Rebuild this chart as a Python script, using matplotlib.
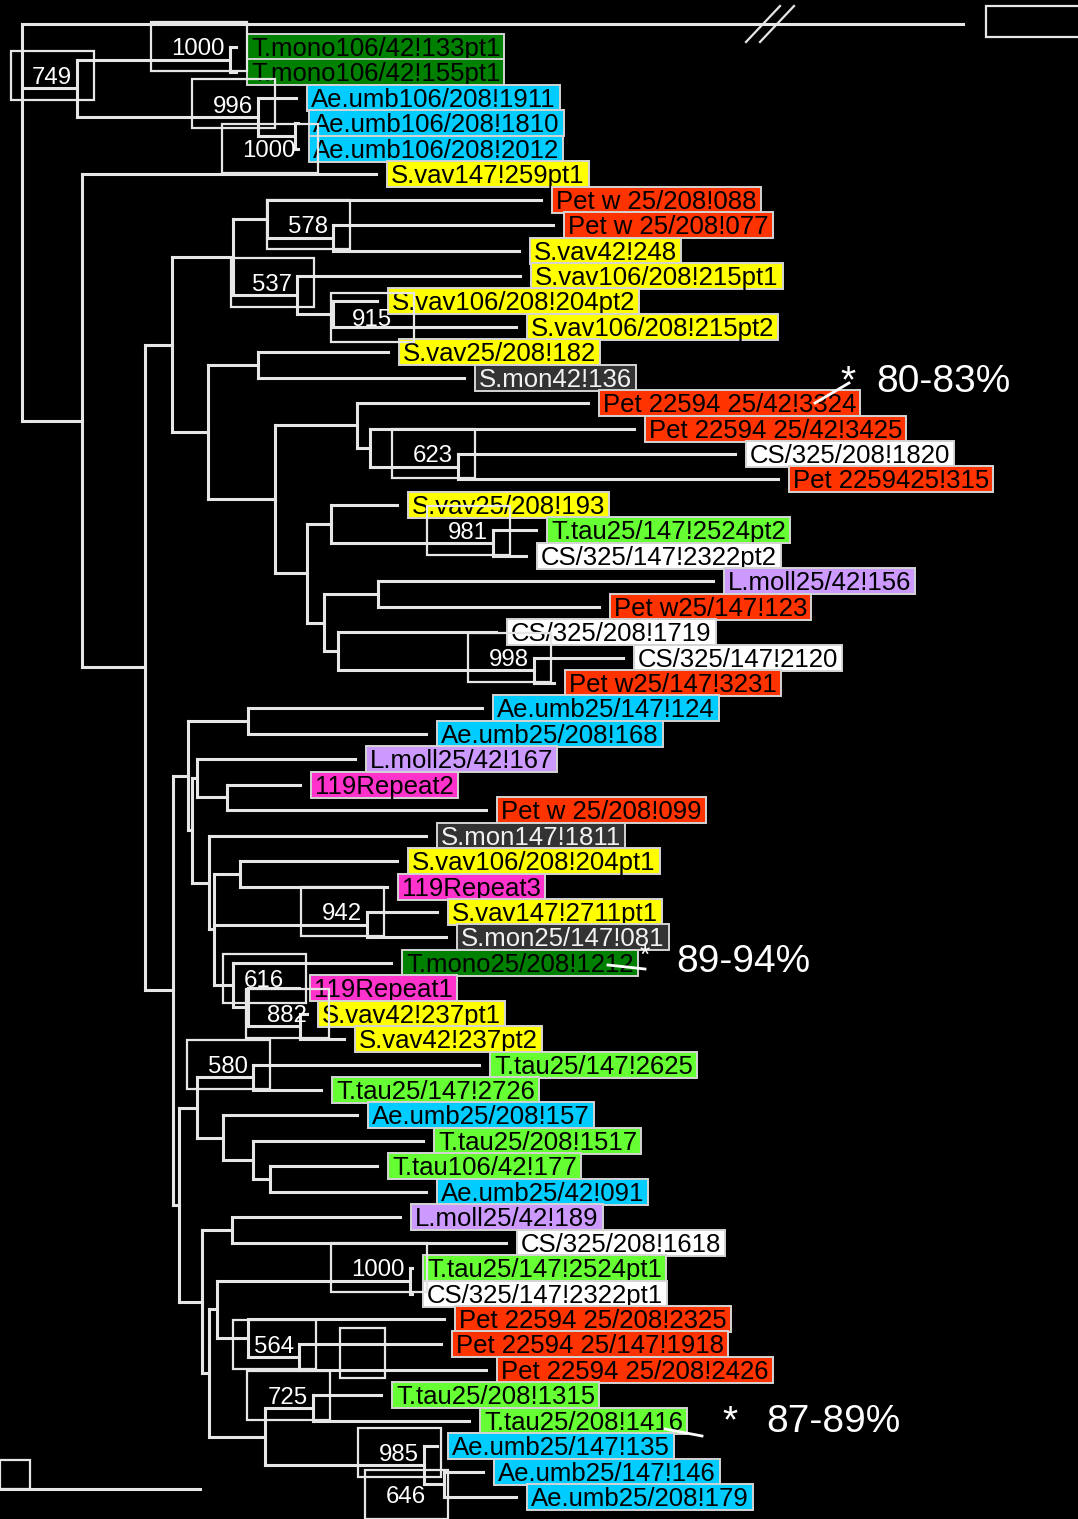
import matplotlib
matplotlib.use("Agg")
import matplotlib.pyplot as plt
from matplotlib.patches import Rectangle

plt.rcParams['font.family'] = ['Liberation Sans', 'DejaVu Sans']

# taxa, top to bottom
leaf_names = [
    "T.mono106/42!133pt1", "T.mono106/42!155pt1", "Ae.umb106/208!1911",
    "Ae.umb106/208!1810", "Ae.umb106/208!2012", "S.vav147!259pt1",
    "Pet w 25/208!088", "Pet w 25/208!077", "S.vav42!248",
    "S.vav106/208!215pt1", "S.vav106/208!204pt2", "S.vav106/208!215pt2",
    "S.vav25/208!182", "S.mon42!136", "Pet 22594 25/42!3324",
    "Pet 22594 25/42!3425", "CS/325/208!1820", "Pet 2259425!315",
    "S.vav25/208!193", "T.tau25/147!2524pt2", "CS/325/147!2322pt2",
    "L.moll25/42!156", "Pet w25/147!123", "CS/325/208!1719",
    "CS/325/147!2120", "Pet w25/147!3231", "Ae.umb25/147!124",
    "Ae.umb25/208!168", "L.moll25/42!167", "119Repeat2",
    "Pet w 25/208!099", "S.mon147!1811", "S.vav106/208!204pt1",
    "119Repeat3", "S.vav147!2711pt1", "S.mon25/147!081",
    "T.mono25/208!1212", "119Repeat1", "S.vav42!237pt1",
    "S.vav42!237pt2", "T.tau25/147!2625", "T.tau25/147!2726",
    "Ae.umb25/208!157", "T.tau25/208!1517", "T.tau106/42!177",
    "Ae.umb25/42!091", "L.moll25/42!189", "CS/325/208!1618",
    "T.tau25/147!2524pt1", "CS/325/147!2322pt1", "Pet 22594 25/208!2325",
    "Pet 22594 25/147!1918", "Pet 22594 25/208!2426", "T.tau25/208!1315",
    "T.tau25/208!1416", "Ae.umb25/147!135", "Ae.umb25/147!146",
    "Ae.umb25/208!179",
]

# branch tip positions (tree distance units)
tip_x = [
    236, 236, 296, 298, 298, 376, 541, 553, 519, 520,
    377, 516, 388, 464, 588, 634, 735, 778, 397, 536,
    526, 713, 599, 496, 623, 554, 482, 426, 355, 300,
    486, 426, 397, 387, 437, 446, 391, 299, 307, 344,
    479, 321, 357, 423, 377, 426, 400, 506, 412, 412,
    444, 441, 486, 381, 469, 437, 483, 516,
]
outgroup_tip = 963

# internal nodes: name -> (depth, children)
nodes = {
    'root': (22, ['out', 'c749', 'r82']),
    'c749': (77, ['tmono', 'aeumb']),
    'tmono': (230, [0, 1]),
    'aeumb': (258, [2, 'ae45']),
    'ae45': (295, [3, 4]),
    'r82': (82, [5, 'r145']),
    'r145': (145, ['top', 'bot']),
    'top': (172, ['a1', 'a2']),
    'a1': (233, ['a11', 'a12']),
    'a11': (267, [6, 'n89']),
    'n89': (333, [7, 8]),
    'a12': (297, [9, 'n1112']),
    'n1112': (333, [10, 11]),
    'a2': (208, ['n1314', 'a22']),
    'n1314': (258, [12, 13]),
    'a22': (275, ['a221', 'a222']),
    'a221': (357, [14, 'n16']),
    'n16': (370, [15, 'n1718']),
    'n1718': (458, [16, 17]),
    'a222': (307, ['n19', 'n2x']),
    'n19': (331, [18, 'n2021']),
    'n2021': (493, [19, 20]),
    'n2x': (324, ['n2223', 'n24']),
    'n2223': (378, [21, 22]),
    'n24': (338, [23, 'n2526']),
    'n2526': (534, [24, 25]),
    'bot': (173, ['b1', 'b2']),
    'b1': (188, ['n2728', 'b12']),
    'n2728': (248, [26, 27]),
    'b12': (192, ['b121', 'b122']),
    'b121': (197, [28, 'n3031']),
    'n3031': (227, [29, 30]),
    'b122': (209, [31, 'c']),
    'c': (214, ['n3334', 'n3536', 'd']),
    'n3334': (240, [32, 33]),
    'n3536': (367, [34, 35]),
    'd': (233, [36, 'd2']),
    'd2': (248, [37, 'd3']),
    'd3': (300, [38, 39]),
    'b2': (179, ['b21', 'b22']),
    'b21': (197, ['n4142', 'n43']),
    'n4142': (253, [40, 41]),
    'n43': (223, [42, 'n44']),
    'n44': (253, [43, 'n4546']),
    'n4546': (270, [44, 45]),
    'b22': (202, ['n4748', 'b222']),
    'n4748': (232, [46, 47]),
    'b222': (209, ['n49', 'n54']),
    'n49': (217, ['n4950', 'n51']),
    'n4950': (410, [48, 49]),
    'n51': (248, [50, 'n5253']),
    'n5253': (299, [51, 52]),
    'n54': (265, ['n5455', 'n56']),
    'n5455': (313, [53, 54]),
    'n56': (424, [55, 'n5758']),
    'n5758': (444, [56, 57]),
}

# bootstrap support (of 1000)
support = {
    'tmono': 1000, 'c749': 749, 'aeumb': 996, 'ae45': 1000, 'n89': 578,
    'a12': 537, 'n1112': 915, 'n1718': 623, 'n2021': 981, 'n2526': 998,
    'n3536': 942, 'd': 616, 'd3': 882, 'n4142': 580, 'n4950': 1000,
    'n5253': 564, 'n5455': 725, 'n56': 985, 'n5758': 646,
}

# identity ranges for the marked sequences
ident_text = ['80-83%', '89-94%', '87-89%']
ident_leaf = [14, 36, 54]

colours = {
    'T.mono': '#008000', 'Ae.umb': '#00ccff', 'S.vav': '#ffff00',
    'Pet': '#ff3300', 'CS': '#ffffff', 'T.tau': '#66ff33',
    'L.moll': '#cc99ff', '119Repeat': '#ff33cc', 'S.mon': '#333333',
}

LINE = '#e6e6e6'
ROW = 25.44      # pixels per taxon row
Y0 = 47          # pixel row of first taxon
W, H = 1078, 1519


def py(p):
    return (p - Y0) / ROW


fig = plt.figure(figsize=(W / 100, H / 100), dpi=100, facecolor='black')
ax = fig.add_axes([0, 0, 1, 1])
ax.set_facecolor('black')
ax.set_xlim(0, W)
ax.set_ylim(py(H), py(0))
ax.axis('off')
renderer = fig.canvas.get_renderer()


def node_y(k):
    if k == 'out':
        return py(24)
    if isinstance(k, int):
        return k
    ys = [node_y(c) for c in nodes[k][1]]
    return (min(ys) + max(ys)) / 2


def node_x(k):
    if k == 'out':
        return outgroup_tip
    if isinstance(k, int):
        return tip_x[k]
    return nodes[k][0]


def seg(xs, ys, lw=2.2):
    ax.plot(xs, ys, color=LINE, lw=lw, solid_capstyle='projecting', zorder=2)


def frame(x, top, w, h, z=6, fill=None):
    # y axis runs downwards, so a positive height extends below `top`
    ax.add_patch(Rectangle((x, py(top)), w, h / ROW, fill=fill is not None,
                           fc=fill or 'none', ec=LINE, lw=1.6, zorder=z))


def draw(k):
    x, kids = nodes[k]
    ys = [node_y(c) for c in kids]
    seg([x, x], [min(ys), max(ys)])
    for c, yc in zip(kids, ys):
        seg([x, node_x(c)], [yc, yc])
        if isinstance(c, str) and c != 'out':
            draw(c)


draw('root')

# break marks on the long outgroup branch, and its (empty) label frame
for bx in (763, 777):
    seg([bx - 17, bx + 17], [py(24 + 18), py(24 - 18)], lw=1.6)
frame(outgroup_tip + 23, 6, 110, 31, z=3, fill='black')

# taxon labels
for i, name in enumerate(leaf_names):
    grp = next(g for g in colours if name.startswith(g))
    fc = colours[grp]
    tc = '#f2f2f2' if grp == 'S.mon' else 'black'
    x0 = tip_x[i] + 11
    z = 3 + i * 0.02
    t = ax.text(x0 + 4, i + 9 / ROW, name, fontsize=18.5, color=tc,
                ha='left', va='baseline', zorder=z + 0.01)
    w = t.get_window_extent(renderer).width
    ax.add_patch(Rectangle((x0, i - 13 / ROW), w + 8, 26 / ROW, fc=fc,
                           ec='#d4d4d4', lw=1.4, zorder=z))

# bootstrap values with their frames
offsets = {'ae45': (1, 12), 'n1112': (59, 3), 'd': (51, -7),
           'd3': (7, -13), 'n5758': (-18, 10)}
for k, val in support.items():
    dx, dy = offsets.get(k, (-5, -13))
    tx = node_x(k) + dx
    ty = node_y(k) + dy / ROW
    t = ax.text(tx, ty + 8.6 / ROW, str(val), fontsize=17.3, color='white',
                ha='right', va='baseline', zorder=7)
    w = t.get_window_extent(renderer).width
    ax.add_patch(Rectangle((tx - w - 21, ty - 24.5 / ROW), w + 43, 49 / ROW,
                           fill=False, ec=LINE, lw=1.6, zorder=6))

# loose frame next to the 564 node
frame(340, 1328, 45, 50)

# scale bar
seg([0, 200], [py(1489), py(1489)])
frame(0, 1460, 30, 29)

# pointers, stars and identity ranges
pointers = [((815, 403), (849, 383)), ((608, 965), (645, 969)),
            ((665, 1429), (702, 1436))]
stars = [(848, 392, 28), (645, 963, 19), (730, 1432, 28)]
text_pos = [(876, 392), (676, 972), (766, 1432)]
for j, label in enumerate(ident_text):
    (x1, y1), (x2, y2) = pointers[j]
    ax.plot([x1, x2], [py(y1), py(y2)], color='white', lw=2, zorder=8)
    sx, sy, ss = stars[j]
    ax.text(sx, py(sy), '*', fontsize=ss, color='white', ha='center',
            va='baseline', zorder=8)
    lx, ly = text_pos[j]
    ax.text(lx, py(ly), label, fontsize=28, color='white', ha='left',
            va='baseline', zorder=8)

fig.savefig('out.png', dpi=100, facecolor='black')
